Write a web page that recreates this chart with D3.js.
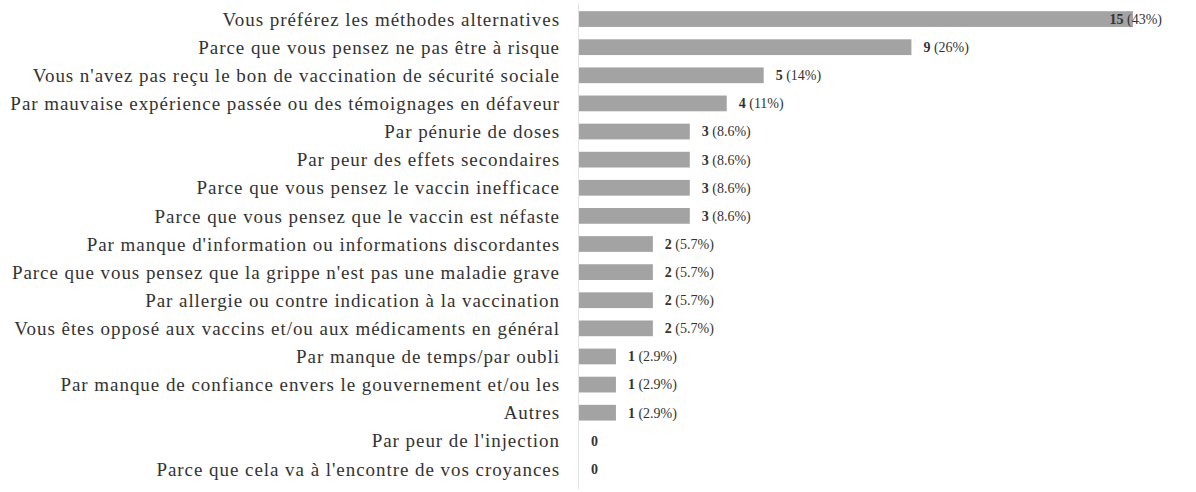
<!DOCTYPE html>
<html><head><meta charset="utf-8">
<script src="https://cdn.jsdelivr.net/npm/d3@7"></script>
<style>body{margin:0;background:#fff}svg{display:block}</style>
</head><body>
<svg id="chart" width="1196" height="492"></svg>
<script>
const categories = [
  "Vous préférez les méthodes alternatives",
  "Parce que vous pensez ne pas être à risque",
  "Vous n'avez pas reçu le bon de vaccination de sécurité sociale",
  "Par mauvaise expérience passée ou des témoignages en défaveur",
  "Par pénurie de doses",
  "Par peur des effets secondaires",
  "Parce que vous pensez le vaccin inefficace",
  "Parce que vous pensez que le vaccin est néfaste",
  "Par manque d'information ou informations discordantes",
  "Parce que vous pensez que la grippe n'est pas une maladie grave",
  "Par allergie ou contre indication à la vaccination",
  "Vous êtes opposé aux vaccins et/ou aux médicaments en général",
  "Par manque de temps/par oubli",
  "Par manque de confiance envers le gouvernement et/ou les",
  "Autres",
  "Par peur de l'injection",
  "Parce que cela va à l'encontre de vos croyances"
];
const counts = [15, 9, 5, 4, 3, 3, 3, 3, 2, 2, 2, 2, 1, 1, 1, 0, 0];
const percents = ["43%", "26%", "14%", "11%", "8.6%", "8.6%", "8.6%", "8.6%", "5.7%", "5.7%", "5.7%", "5.7%", "2.9%", "2.9%", "2.9%", "", ""];

(function () {
const svg = d3.select("#chart");
const mLeft = 579, mTop = 5, mBottom = 483;
const serif = "'Liberation Serif', 'Times New Roman', serif";
const x = d3.scaleLinear().domain([0, 15]).range([mLeft, 1133]);
const y = d3.scaleBand().domain(categories).range([mTop, mBottom]).paddingInner(0.44).paddingOuter(0.22);

svg.append("line").attr("x1", mLeft - 0.5).attr("x2", mLeft - 0.5).attr("y1", 3).attr("y2", 489)
  .attr("stroke", "#e2e2e2").attr("stroke-width", 1);

svg.selectAll("rect.bar").data(categories).join("rect").attr("class", "bar")
  .attr("x", x(0)).attr("y", d => y(d))
  .attr("width", (d, i) => x(counts[i]) - x(0)).attr("height", y.bandwidth())
  .attr("fill", "#a3a3a3");

svg.selectAll("text.cat").data(categories).join("text").attr("class", "cat")
  .attr("x", 560).attr("y", d => y(d) + y.bandwidth() / 2).attr("dy", "0.35em")
  .attr("text-anchor", "end").style("font-family", serif).attr("font-size", 19)
  .attr("letter-spacing", 0.95).attr("fill", "#333").text(d => d);

const vals = svg.selectAll("text.val").data(categories).join("text").attr("class", "val")
  .attr("y", d => y(d) + y.bandwidth() / 2).attr("dy", "0.35em")
  .style("font-family", serif).attr("font-size", 14).attr("fill", "#333");
vals.append("tspan").attr("font-weight", "bold").text((d, i) => counts[i]);
vals.append("tspan").text((d, i) => percents[i] ? "  (" + percents[i] + ")" : "");
vals.attr("x", function(d, i) {
  const w = this.getComputedTextLength();
  return Math.min(x(counts[i]) + 12, 1162 - w);
});
})();
</script>
</body></html>
